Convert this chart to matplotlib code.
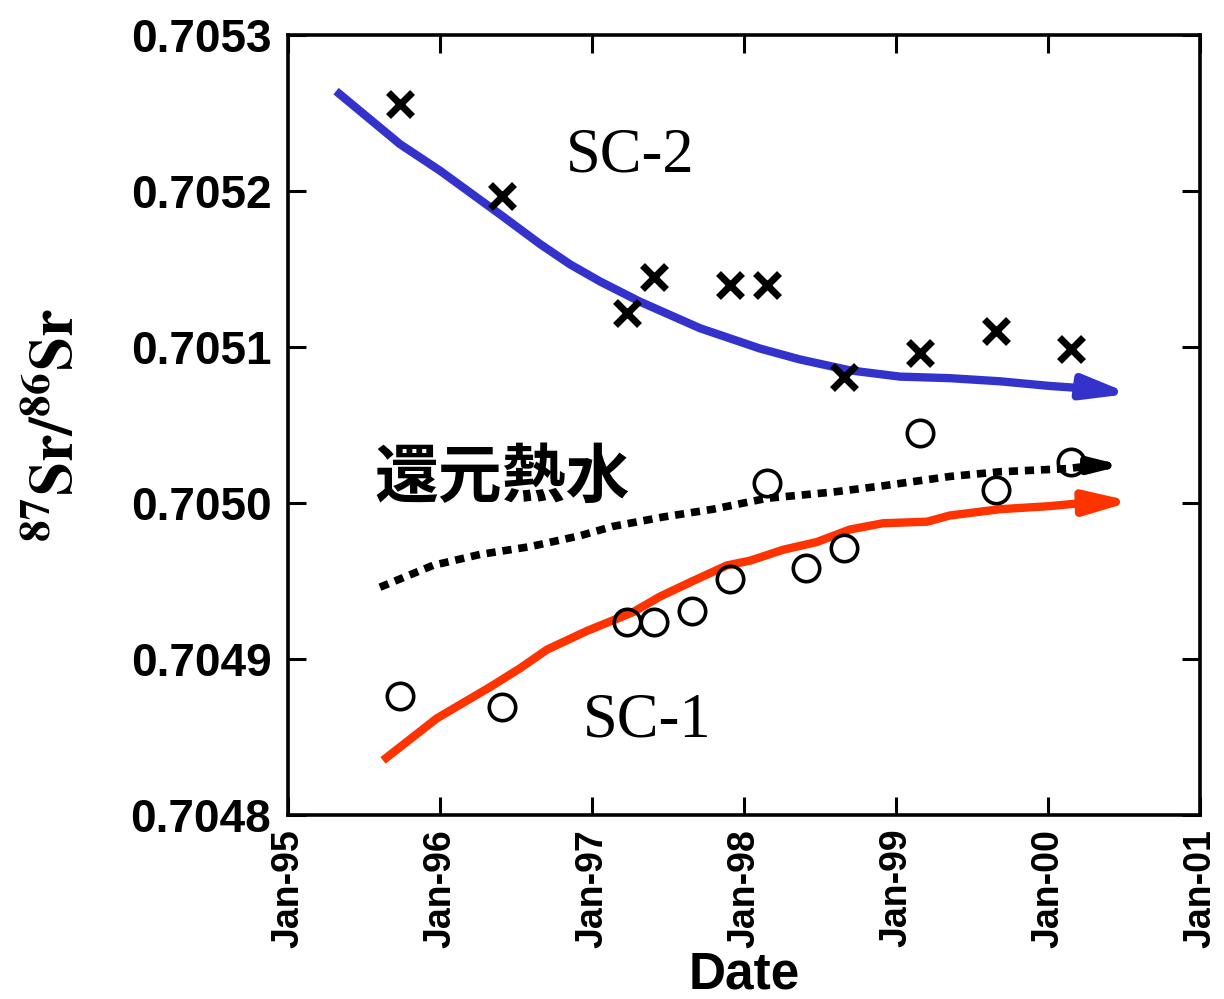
import matplotlib

matplotlib.use("Agg")
import matplotlib.pyplot as plt

plt.rcParams["mathtext.fontset"] = "stix"

# decimal year, 87Sr/86Sr
sc2_x = [1995.737, 1996.408, 1997.230, 1997.408, 1997.908, 1998.151, 1998.658, 1999.158, 1999.658, 2000.151]
sc2_y = [0.705256, 0.705197, 0.705122, 0.705145, 0.705140, 0.705140, 0.705081, 0.705096, 0.705110, 0.705099]

sc1_x = [1995.737, 1996.408, 1997.230, 1997.408, 1997.658, 1997.908, 1998.151, 1998.408, 1998.658,
         1999.158, 1999.658, 2000.151]
sc1_y = [0.704876, 0.704869, 0.704924, 0.704924, 0.704931, 0.704951, 0.705013, 0.704958, 0.704971,
         0.705045, 0.705008, 0.705026]

# trend curves (last point is the arrow tip)
blue_x = [1995.316, 1995.737, 1996.000, 1996.395, 1996.658, 1996.855, 1997.053, 1997.316, 1997.711,
          1998.105, 1998.368, 1998.697, 1999.026, 1999.355, 1999.684, 2000.013, 2000.309, 2000.539]
blue_y = [0.705264, 0.705230, 0.705213, 0.705185, 0.705166, 0.705153, 0.705142, 0.705129, 0.705112,
          0.705099, 0.705092, 0.705085, 0.705081, 0.705080, 0.705078, 0.705075, 0.705073, 0.705070]

red_x = [1995.625, 1995.980, 1996.329, 1996.526, 1996.704, 1996.967, 1997.270, 1997.447, 1997.664,
         1997.888, 1998.039, 1998.257, 1998.480, 1998.697, 1998.914, 1999.204, 1999.355, 1999.684,
         2000.013, 2000.230, 2000.553]
red_y = [0.704835, 0.704862, 0.704882, 0.704894, 0.704906, 0.704918, 0.704930, 0.704940, 0.704950,
         0.704960, 0.704963, 0.704970, 0.704975, 0.704983, 0.704987, 0.704988, 0.704992, 0.704996,
         0.704998, 0.705000, 0.705001]

mix_x = [1995.605, 1995.954, 1996.263, 1996.592, 1996.921, 1997.138, 1997.467, 1997.796, 1998.151,
         1998.586, 1998.914, 1999.355, 1999.684, 2000.125, 2000.296, 2000.493]
mix_y = [0.704946, 0.704960, 0.704967, 0.704972, 0.704979, 0.704985, 0.704991, 0.704996, 0.705003,
         0.705007, 0.705011, 0.705017, 0.705020, 0.705022, 0.705024, 0.705024]

xticks = [1995, 1996, 1997, 1998, 1999, 2000, 2001]
xtick_labels = ["Jan-95", "Jan-96", "Jan-97", "Jan-98", "Jan-99", "Jan-00", "Jan-01"]
yticks = [0.7048, 0.7049, 0.7050, 0.7051, 0.7052, 0.7053]
ytick_labels = ["0.7048", "0.7049", "0.7050", "0.7051", "0.7052", "0.7053"]

BLUE = "#3333cc"
RED = "#ff3300"
SANS = "Liberation Sans"
SERIF = "Liberation Serif"

fig = plt.figure(figsize=(12.24, 9.99), dpi=100)
ax = fig.add_axes([0.2353, 0.1842, 0.7451, 0.7808])


def trend(xs, ys, color, lw, ls, head):
    ax.plot(xs[:-1], ys[:-1], color=color, lw=lw, ls=ls, dash_capstyle="butt", solid_capstyle="butt")
    ax.annotate("", xy=(xs[-1], ys[-1]), xytext=(xs[-2], ys[-2]),
                arrowprops=dict(arrowstyle=head, color=color, lw=lw, shrinkA=0, shrinkB=0,
                                mutation_scale=14))


trend(blue_x, blue_y, BLUE, 6, "-", "-|>,head_length=1.9,head_width=0.5")
trend(red_x, red_y, RED, 6, "-", "-|>,head_length=1.9,head_width=0.5")
trend(mix_x, mix_y, "black", 5.5, (0, (1.2, 0.9)), "-|>,head_length=1.2,head_width=0.3")

ax.plot(sc2_x, sc2_y, ls="none", marker="x", ms=17, mew=5, color="black")
ax.plot(sc1_x, sc1_y, ls="none", marker="o", ms=19, mew=2.6, mfc="none", mec="black")

ax.text(1997.25, 0.705222, "SC-2", family=SERIF, fontsize=45, ha="center", va="center")
ax.text(1997.362, 0.704860, "SC-1", family=SERIF, fontsize=45, ha="center", va="center")
ax.text(1996.408, 0.705016, "還元熱水", family=["Noto Sans CJK JP", "DejaVu Sans"], fontweight="bold",
        fontsize=46, ha="center", va="center")

ax.set_xlim(1995, 2001)
ax.set_ylim(0.7048, 0.7053)
ax.set_xticks(xticks)
ax.set_xticklabels(xtick_labels, rotation=90, family=SANS, fontweight="bold", fontsize=27)
ax.set_yticks(yticks)
ax.set_yticklabels(ytick_labels, family=SANS, fontweight="bold", fontsize=33)
ax.tick_params(direction="in", top=True, right=True, length=13, width=2.2)
ax.tick_params(axis="x", pad=10)
ax.tick_params(axis="y", pad=12)
for sp in ax.spines.values():
    sp.set_linewidth(2.6)

ax.set_xlabel("Date", family=SANS, fontweight="bold", fontsize=37, labelpad=2)
ax.set_ylabel(r"$\mathbf{^{87}Sr/^{86}Sr}$", fontsize=44, labelpad=32)

fig.savefig("out.png", dpi=100)
plt.close(fig)
